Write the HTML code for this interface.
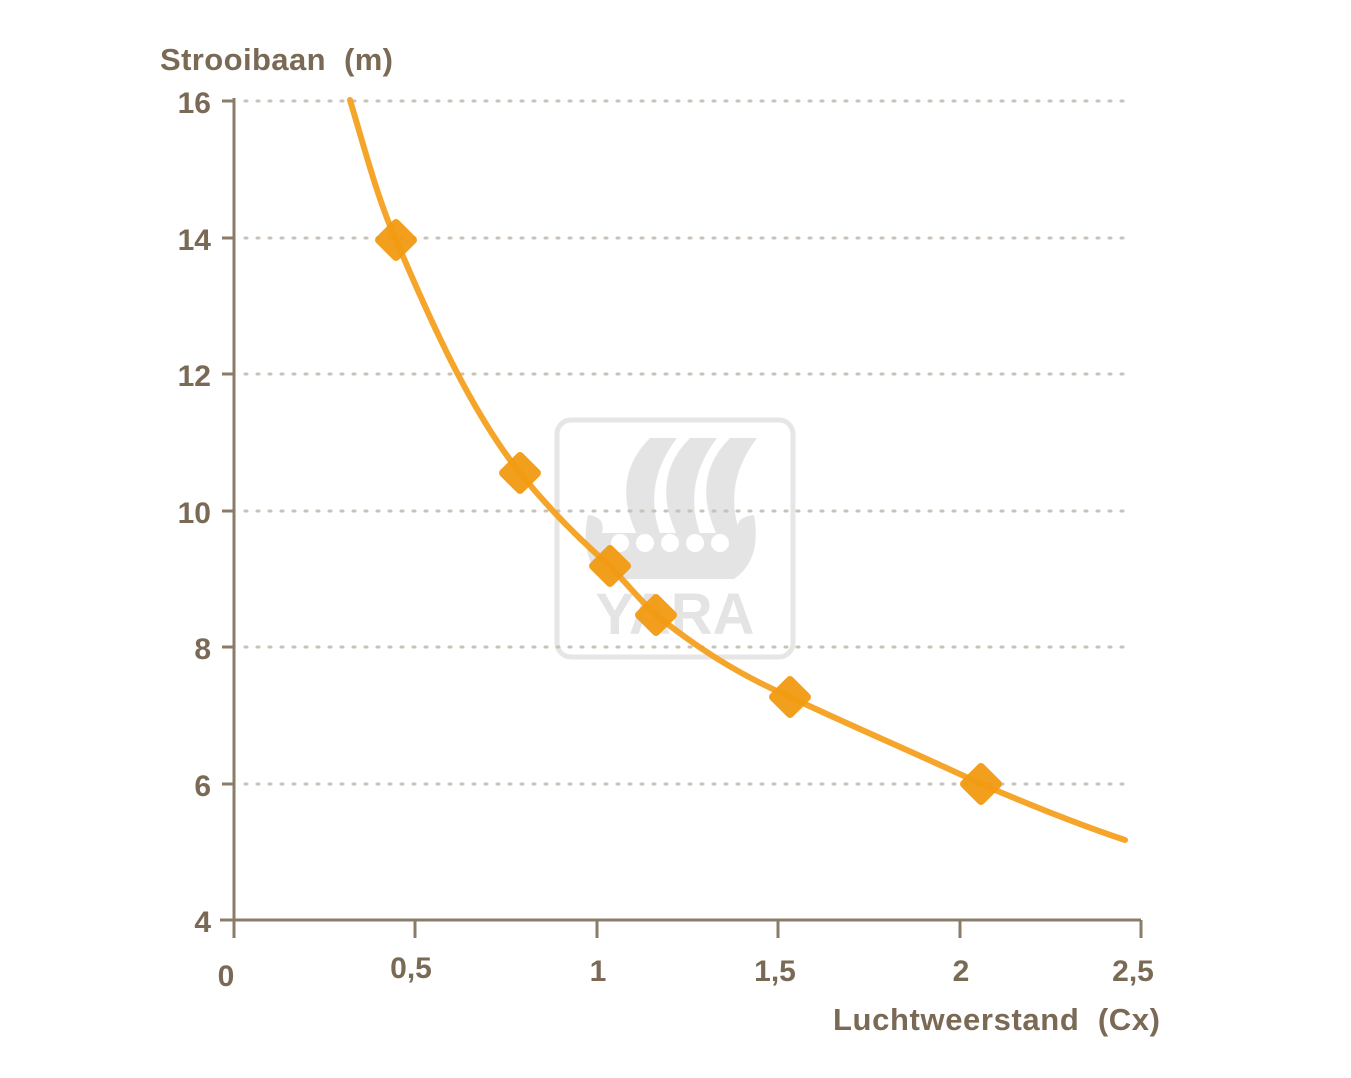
<!DOCTYPE html>
<html><head><meta charset="utf-8"><style>
html,body{margin:0;padding:0;background:#fff}
svg{display:block}
text{font-family:"Liberation Sans",Arial,sans-serif;font-weight:bold;fill:#7a6a55;white-space:pre}
</style></head><body>
<svg width="1351" height="1078" viewBox="0 0 1351 1078">
<!-- watermark -->
<g>
<rect x="557" y="420" width="236" height="237" rx="14" fill="none" stroke="#e6e6e6" stroke-width="5"/>
<path d="M650 438 q-45 45 -5 112 l22 0 q-30 -60 10 -112z" fill="#e4e4e4"/>
<path d="M690 438 q-45 45 -5 112 l22 0 q-30 -60 10 -112z" fill="#e4e4e4"/>
<path d="M730 438 q-45 45 -5 112 l22 0 q-30 -60 10 -112z" fill="#e4e4e4"/>
<path d="M588 515 q18 2 14 18 l136 0 q-4 -16 16 -18 q8 45 -20 64 l-130 0 q-25 -20 -16 -64z" fill="#e4e4e4"/>
<g fill="#fff"><circle cx="620" cy="543" r="9"/><circle cx="645" cy="543" r="9"/><circle cx="670" cy="543" r="9"/><circle cx="695" cy="543" r="9"/><circle cx="720" cy="543" r="9"/></g>
<text x="675" y="634" text-anchor="middle" font-size="58" style="fill:#e4e4e4">YARA</text>
</g>
<!-- grid -->
<g stroke="#c8c2b8" stroke-width="3" stroke-dasharray="2 10" stroke-linecap="round">
<line x1="245" y1="101" x2="1130" y2="101"/>
<line x1="245" y1="238" x2="1130" y2="238"/>
<line x1="245" y1="374" x2="1130" y2="374"/>
<line x1="245" y1="511" x2="1130" y2="511"/>
<line x1="245" y1="647" x2="1130" y2="647"/>
<line x1="245" y1="784" x2="1130" y2="784"/>
</g>
<!-- axes -->
<g stroke="#8a7c68" stroke-width="3">
<line x1="234" y1="98" x2="234" y2="938"/>
<line x1="220" y1="920" x2="1141" y2="920"/>
<line x1="222" y1="101" x2="234" y2="101"/>
<line x1="222" y1="238" x2="234" y2="238"/>
<line x1="222" y1="374" x2="234" y2="374"/>
<line x1="222" y1="511" x2="234" y2="511"/>
<line x1="222" y1="647" x2="234" y2="647"/>
<line x1="222" y1="784" x2="234" y2="784"/>
<line x1="415" y1="920" x2="415" y2="938"/>
<line x1="597" y1="920" x2="597" y2="938"/>
<line x1="778" y1="920" x2="778" y2="938"/>
<line x1="960" y1="920" x2="960" y2="938"/>
<line x1="1141" y1="920" x2="1141" y2="938"/>
</g>
<g font-size="30" text-anchor="end">
<text x="211" y="113">16</text><text x="211" y="250">14</text><text x="211" y="386">12</text>
<text x="211" y="523">10</text><text x="211" y="659">8</text><text x="211" y="796">6</text><text x="211" y="932">4</text>
</g>
<g font-size="30" text-anchor="middle">
<text x="226" y="986">0</text><text x="411" y="978">0,5</text><text x="598" y="981">1</text>
<text x="775" y="981">1,5</text><text x="961" y="981">2</text><text x="1133" y="981">2,5</text>
</g>
<text x="160" y="70" font-size="31" textLength="233" lengthAdjust="spacing">Strooibaan  (m)</text>
<text x="833" y="1030" font-size="31" textLength="327" lengthAdjust="spacing">Luchtweerstand  (Cx)</text>
<!-- curve -->
<path d="M350 100 C365 150 378 200 396 240 C430 320 470 410 520 473 C550 510 580 540 610 566 C625 582 640 600 656 615 C700 650 740 675 790 697 C860 730 920 755 981 784 C1030 805 1080 825 1125 840" fill="none" stroke="#f5a020" stroke-width="6" stroke-linecap="round" opacity="0.95"/>
<g fill="#f29a12" opacity="0.95">
<rect x="380" y="224" width="32" height="32" rx="4" transform="rotate(45 396 240)"/>
<rect x="504" y="457" width="32" height="32" rx="4" transform="rotate(45 520 473)"/>
<rect x="594" y="550" width="32" height="32" rx="4" transform="rotate(45 610 566)"/>
<rect x="640" y="599" width="32" height="32" rx="4" transform="rotate(45 656 615)"/>
<rect x="774" y="681" width="32" height="32" rx="4" transform="rotate(45 790 697)"/>
<rect x="965" y="768" width="32" height="32" rx="4" transform="rotate(45 981 784)"/>
</g>
</svg>
</body></html>
